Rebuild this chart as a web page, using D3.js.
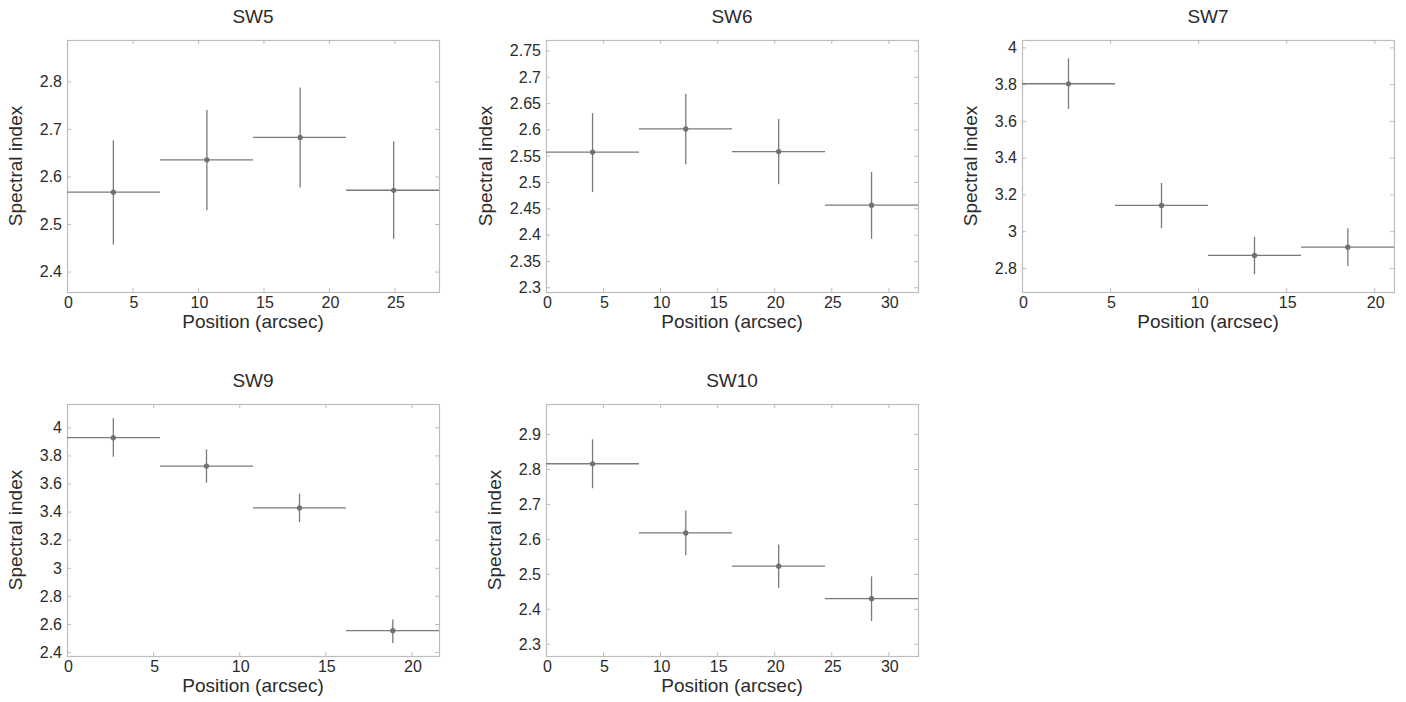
<!DOCTYPE html>
<html>
<head>
<meta charset="utf-8">
<script src="https://cdnjs.cloudflare.com/ajax/libs/d3/7.8.5/d3.min.js"></script>
<style>
  body { margin: 0; background: #fff; }
  svg { display: block; font-family: "Liberation Sans", Arial, Helvetica, sans-serif; }
</style>
</head>
<body>
<svg id="chart" width="1406" height="702"></svg>
<script>
// Panel names
var panelNames = ['SW5', 'SW6', 'SW7', 'SW9', 'SW10'];

// SW5
var sw5Pos = [3.54, 10.68, 17.8, 24.94];
var sw5BinLo = [0, 7.1, 14.2, 21.3];
var sw5BinHi = [7.1, 14.2, 21.3, 28.4];
var sw5Index = [2.567, 2.635, 2.682, 2.571];
var sw5ErrLo = [2.457, 2.529, 2.577, 2.469];
var sw5ErrHi = [2.676, 2.740, 2.787, 2.674];
var sw5XTicks = [0, 5, 10, 15, 20, 25];
var sw5YTicks = [2.4, 2.5, 2.6, 2.7, 2.8];

// SW6
var sw6Pos = [4.08, 12.25, 20.39, 28.53];
var sw6BinLo = [0, 8.15, 16.3, 24.45];
var sw6BinHi = [8.15, 16.3, 24.45, 32.6];
var sw6Index = [2.557, 2.601, 2.558, 2.456];
var sw6ErrLo = [2.481, 2.534, 2.496, 2.392];
var sw6ErrHi = [2.631, 2.668, 2.620, 2.519];
var sw6XTicks = [0, 5, 10, 15, 20, 25, 30];
var sw6YTicks = [2.3, 2.35, 2.4, 2.45, 2.5, 2.55, 2.6, 2.65, 2.7, 2.75];

// SW7
var sw7Pos = [2.64, 7.92, 13.2, 18.5];
var sw7BinLo = [0, 5.28, 10.56, 15.84];
var sw7BinHi = [5.28, 10.56, 15.84, 21.12];
var sw7Index = [3.802, 3.140, 2.868, 2.913];
var sw7ErrLo = [3.665, 3.016, 2.765, 2.810];
var sw7ErrHi = [3.940, 3.262, 2.970, 3.016];
var sw7XTicks = [0, 5, 10, 15, 20];
var sw7YTicks = [2.8, 3, 3.2, 3.4, 3.6, 3.8, 4];

// SW9
var sw9Pos = [2.69, 8.1, 13.5, 18.92];
var sw9BinLo = [0, 5.4, 10.8, 16.2];
var sw9BinHi = [5.4, 10.8, 16.2, 21.6];
var sw9Index = [3.926, 3.724, 3.426, 2.552];
var sw9ErrLo = [3.791, 3.605, 3.324, 2.465];
var sw9ErrHi = [4.064, 3.843, 3.528, 2.631];
var sw9XTicks = [0, 5, 10, 15, 20];
var sw9YTicks = [2.4, 2.6, 2.8, 3, 3.2, 3.4, 3.6, 3.8, 4];

// SW10
var sw10Pos = [4.08, 12.25, 20.39, 28.53];
var sw10BinLo = [0, 8.15, 16.3, 24.45];
var sw10BinHi = [8.15, 16.3, 24.45, 32.6];
var sw10Index = [2.815, 2.617, 2.522, 2.429];
var sw10ErrLo = [2.745, 2.553, 2.460, 2.365];
var sw10ErrHi = [2.885, 2.681, 2.584, 2.493];
var sw10XTicks = [0, 5, 10, 15, 20, 25, 30];
var sw10YTicks = [2.3, 2.4, 2.5, 2.6, 2.7, 2.8, 2.9];

// Axis ranges
var xMaxes = [28.4, 32.6, 21.12, 21.6, 32.6];
var yRanges = [[2.357, 2.887], [2.291, 2.770], [2.669, 4.04], [2.372, 4.166], [2.265, 2.986]];

var panels = [
  {pos: sw5Pos, lo: sw5BinLo, hi: sw5BinHi, v: sw5Index, el: sw5ErrLo, eh: sw5ErrHi, xt: sw5XTicks, yt: sw5YTicks},
  {pos: sw6Pos, lo: sw6BinLo, hi: sw6BinHi, v: sw6Index, el: sw6ErrLo, eh: sw6ErrHi, xt: sw6XTicks, yt: sw6YTicks},
  {pos: sw7Pos, lo: sw7BinLo, hi: sw7BinHi, v: sw7Index, el: sw7ErrLo, eh: sw7ErrHi, xt: sw7XTicks, yt: sw7YTicks},
  {pos: sw9Pos, lo: sw9BinLo, hi: sw9BinHi, v: sw9Index, el: sw9ErrLo, eh: sw9ErrHi, xt: sw9XTicks, yt: sw9YTicks},
  {pos: sw10Pos, lo: sw10BinLo, hi: sw10BinHi, v: sw10Index, el: sw10ErrLo, eh: sw10ErrHi, xt: sw10XTicks, yt: sw10YTicks}
];

// Layout of the plot boxes (left, top)
var colLeft = [67, 546, 1022];
var rowTop = [40, 404];
var boxW = 372, boxH = 252;

var frameColor = '#bdbdbd';
var dataColor = '#7a7a7a';
var textColor = '#2b2b2b';

var svg = d3.select('#chart');

panels.forEach(function(p, i) {
  var left = colLeft[i % 3];
  var top = rowTop[Math.floor(i / 3)];

  var x = d3.scaleLinear().domain([0, xMaxes[i]]).range([0, boxW]);
  var y = d3.scaleLinear().domain(yRanges[i]).range([boxH, 0]);

  var g = svg.append('g').attr('transform', 'translate(' + left + ',' + top + ')');

  // Frame
  g.append('rect')
    .attr('x', 0.5).attr('y', 0.5)
    .attr('width', boxW).attr('height', boxH)
    .style('fill', 'none')
    .style('stroke', frameColor)
    .style('stroke-width', 1.2);

  // Ticks (inward on all sides)
  var tk = 4;
  g.selectAll('.xtb').data(p.xt).enter().append('line')
    .attr('x1', function(d) { return x(d) + 0.5; }).attr('x2', function(d) { return x(d) + 0.5; })
    .attr('y1', boxH).attr('y2', boxH - tk)
    .style('stroke', frameColor);
  g.selectAll('.xtt').data(p.xt).enter().append('line')
    .attr('x1', function(d) { return x(d) + 0.5; }).attr('x2', function(d) { return x(d) + 0.5; })
    .attr('y1', 0).attr('y2', tk)
    .style('stroke', frameColor);
  g.selectAll('.ytl').data(p.yt).enter().append('line')
    .attr('x1', 0).attr('x2', tk)
    .attr('y1', function(d) { return y(d) + 0.5; }).attr('y2', function(d) { return y(d) + 0.5; })
    .style('stroke', frameColor);
  g.selectAll('.ytr').data(p.yt).enter().append('line')
    .attr('x1', boxW).attr('x2', boxW - tk)
    .attr('y1', function(d) { return y(d) + 0.5; }).attr('y2', function(d) { return y(d) + 0.5; })
    .style('stroke', frameColor);

  // Tick labels
  g.selectAll('.xl').data(p.xt).enter().append('text')
    .attr('x', function(d) { return x(d) + 1.5; })
    .attr('y', boxH + 16)
    .attr('text-anchor', 'middle')
    .style('font-size', '16px')
    .style('fill', textColor)
    .text(function(d) { return d; });

  var yLabels = g.append('g');
  yLabels.selectAll('.yl').data(p.yt).enter().append('text')
    .attr('x', -5)
    .attr('y', function(d) { return y(d); })
    .attr('dy', '0.36em')
    .attr('text-anchor', 'end')
    .style('font-size', '16px')
    .style('fill', textColor)
    .text(function(d) { return d; });

  // Title
  g.append('text')
    .attr('x', boxW / 2)
    .attr('y', -17)
    .attr('text-anchor', 'middle')
    .style('font-size', '19px')
    .style('fill', textColor)
    .text(panelNames[i]);

  // X label
  g.append('text')
    .attr('x', boxW / 2)
    .attr('y', boxH + 36)
    .attr('text-anchor', 'middle')
    .style('font-size', '19px')
    .style('fill', textColor)
    .text('Position (arcsec)');

  // Y label, placed left of the tick labels
  var bb = yLabels.node().getBBox();
  g.append('text')
    .attr('transform', 'translate(' + (bb.x - 18) + ',' + (boxH / 2) + ') rotate(-90)')
    .attr('text-anchor', 'middle')
    .style('font-size', '19px')
    .style('fill', textColor)
    .text('Spectral index');

  var idx = d3.range(p.v.length);

  // Horizontal bin bars
  g.selectAll('.hbar').data(idx).enter().append('line')
    .attr('x1', function(k) { return x(p.lo[k]); })
    .attr('x2', function(k) { return x(p.hi[k]); })
    .attr('y1', function(k) { return y(p.v[k]); })
    .attr('y2', function(k) { return y(p.v[k]); })
    .style('stroke', dataColor)
    .style('stroke-width', 1.3);

  // Vertical error bars
  g.selectAll('.vbar').data(idx).enter().append('line')
    .attr('x1', function(k) { return x(p.pos[k]); })
    .attr('x2', function(k) { return x(p.pos[k]); })
    .attr('y1', function(k) { return y(p.el[k]); })
    .attr('y2', function(k) { return y(p.eh[k]); })
    .style('stroke', dataColor)
    .style('stroke-width', 1.3);

  // Markers
  g.selectAll('.pt').data(idx).enter().append('circle')
    .attr('cx', function(k) { return x(p.pos[k]); })
    .attr('cy', function(k) { return y(p.v[k]); })
    .attr('r', 2.6)
    .style('fill', '#707070');
});
</script>
</body>
</html>
